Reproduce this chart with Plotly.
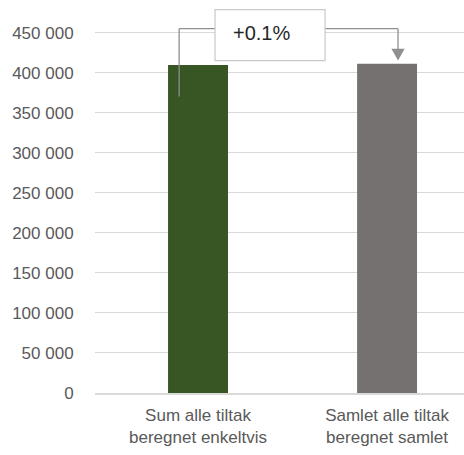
import plotly.graph_objects as go

categories = ["Sum alle tiltak<br>beregnet enkeltvis", "Samlet alle tiltak<br>beregnet samlet"]
values = [409800, 411200]
bar_colors = ["#375623", "#767171"]
change_label = "+0.1%"
y_ticks = [0, 50000, 100000, 150000, 200000, 250000, 300000, 350000, 400000, 450000]

FONT = "Liberation Sans"
LINE = "#8f8f8f"

fig = go.Figure()
fig.add_trace(go.Bar(
    x=[0, 1], y=values, width=0.317,
    marker=dict(color=bar_colors, line=dict(width=0)),
    hoverinfo="skip",
))

top = max(values)
y_bottom_left = values[0] * 0.904
y_line = top * 1.107
y_tip = top * 1.01
x_left = -0.10
x_right = 1.058
box_x0, box_x1 = 0.09, 0.672
box_y0, box_y1 = top * 1.01, top * 1.165

# bracket lines
fig.add_shape(type="line", x0=x_left, x1=x_left, y0=y_bottom_left, y1=y_line,
              line=dict(color=LINE, width=1.3))
fig.add_shape(type="line", x0=x_left, x1=box_x0, y0=y_line, y1=y_line,
              line=dict(color=LINE, width=1.3))
fig.add_shape(type="line", x0=box_x1, x1=x_right, y0=y_line, y1=y_line,
              line=dict(color=LINE, width=1.3))
fig.add_shape(type="line", x0=x_right, x1=x_right, y0=y_line, y1=top * 1.04,
              line=dict(color=LINE, width=1.3))
# arrowhead
fig.add_shape(type="path",
              path=f"M {x_right-0.035} {top*1.046} L {x_right+0.035} {top*1.046} L {x_right} {y_tip} Z",
              fillcolor=LINE, line=dict(color=LINE, width=0))
# label box
fig.add_shape(type="rect", x0=box_x0, x1=box_x1, y0=box_y0, y1=box_y1,
              line=dict(color="#c9c9c9", width=1.2), fillcolor="white")
fig.add_annotation(x=0.336, y=(box_y0 + box_y1) / 2 + top * 0.006,
                   text=change_label, showarrow=False,
                   font=dict(family=FONT, size=20, color="#262626"))

fig.update_layout(
    width=464, height=455,
    margin=dict(l=95, r=0, t=0, b=62),
    paper_bgcolor="white", plot_bgcolor="white",
    showlegend=False,
    separators=", ",
    font=dict(family=FONT, size=17, color="#595959"),
    xaxis=dict(
        range=[-0.545, 1.407],
        tickvals=[0, 1], ticktext=categories,
        showgrid=False, zeroline=False,
        showline=True, linecolor="#d9d9d9", linewidth=1.5,
        ticks="outside", ticklen=6, tickcolor="rgba(0,0,0,0)",
        tickfont=dict(family=FONT, size=17, color="#595959"),
        fixedrange=True,
    ),
    yaxis=dict(
        range=[0, 491000],
        tickvals=y_ticks, tickformat=",d",
        showgrid=True, gridcolor="#d9d9d9", gridwidth=1,
        zeroline=False, showline=False,
        ticks="outside", ticklen=17, tickcolor="rgba(0,0,0,0)",
        tickfont=dict(family=FONT, size=17, color="#595959"),
        fixedrange=True,
    ),
)

fig.write_html("out.html")
